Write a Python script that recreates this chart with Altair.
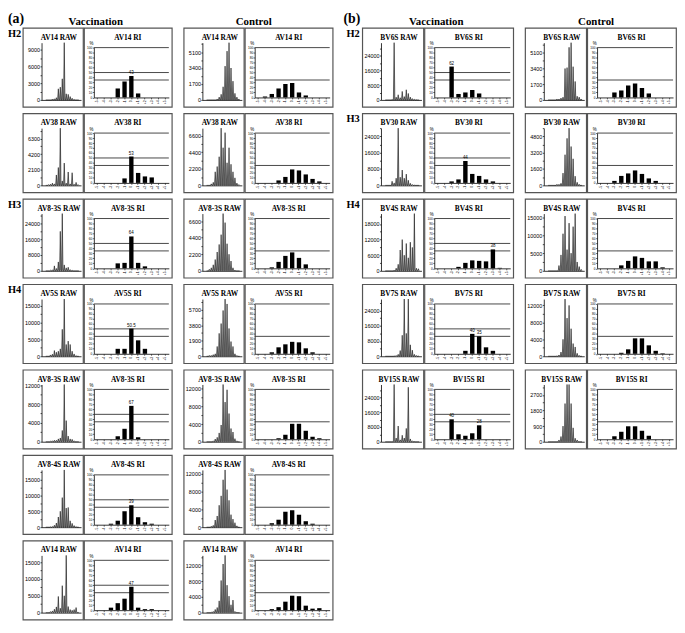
import altair as alt
import pandas as pd

# ---------------- data ----------------
CATS = ["-5", "-4", "-3", "-2", "-1", "0", "+1", "+2", "+3", "+4", "+5"]
VAC_RULES = [100, 50, 35]
CON_RULES = [100, 35]

A_GROUP = ["H2", "", "H3", "H4", "", "", ""]
A_NAMES = ["AV14", "AV38", "AV8-3S", "AV5S", "AV8-3S", "AV8-4S", "AV14"]
A_VAC_STEP = [3000, 2100, 8000, 5000, 4000, 5000, 5000]
A_CON_STEP = [1700, 2200, 2200, 1900, 4000, 4000, 4000]
A_VAC_RAW = [
    [0, 0, 0, 150, 200, 400, 2000, 2300, 3800, 10300, 1100, 1000, 600, 300, 100, 0, 0],
    [0, 100, 150, 300, 200, 1400, 2400, 7700, 600, 3000, 300, 1800, 200, 1700, 150, 400, 100],
    [0, 0, 300, 500, 2500, 1200, 4500, 20000, 29000, 3000, 1500, 1800, 600, 300, 0, 0, 0],
    [0, 0, 400, 600, 1700, 1200, 1500, 2200, 8000, 17000, 3500, 4500, 3500, 1500, 700, 200, 0],
    [0, 0, 100, 200, 300, 300, 600, 800, 2400, 12200, 4500, 1200, 600, 500, 200, 0, 0],
    [0, 0, 100, 200, 600, 1300, 3200, 5000, 9300, 18000, 6000, 6200, 2000, 1200, 500, 200, 0],
    [0, 0, 300, 500, 1000, 1700, 4800, 1300, 8000, 5000, 17000, 1800, 900, 700, 900, 1500, 100],
]
A_CON_RAW = [
    [0, 0, 0, 0, 0, 100, 300, 600, 1400, 3600, 5200, 6100, 3400, 2000, 700, 300, 100],
    [0, 0, 200, 400, 1800, 2500, 3800, 7600, 5000, 7000, 3000, 5000, 2800, 1800, 1000, 300, 100],
    [0, 200, 400, 800, 1500, 2500, 3500, 4800, 7600, 6400, 3600, 2200, 1300, 400, 100, 0, 0],
    [0, 100, 100, 200, 300, 1200, 2800, 4000, 5600, 7000, 6400, 3400, 1800, 1200, 300, 100, 0],
    [0, 0, 0, 200, 600, 1000, 2000, 3800, 13000, 9000, 11800, 6400, 3000, 2200, 700, 200, 0],
    [0, 0, 200, 400, 1600, 2500, 4900, 7000, 10600, 12800, 8400, 6000, 2800, 1800, 1000, 300, 0],
    [0, 0, 100, 300, 800, 1300, 3000, 8200, 12400, 14600, 7000, 4200, 2000, 3200, 300, 100, 0],
]
A_VAC_RI = [
    [0, 0, 0, 18, 32, 43, 8, 0, 0, 0, 0],
    [0, 0, 0, 0, 9, 53, 20, 13, 11, 0, 0],
    [0, 0, 0, 10, 11, 64, 11, 4, 0, 0, 0],
    [0, 0, 0, 10, 10, 50.5, 27, 10, 0, 0, 0],
    [0, 0, 0, 6, 21, 67, 4, 0, 0, 0, 0],
    [0, 0, 2, 8, 27, 39, 15, 5, 2, 0, 0],
    [0, 0, 5, 14, 23, 47, 5, 2, 2, 0, 0],
]
A_CON_RI = [
    [0, 2, 7, 18, 27, 29, 10, 4, 0, 0, 0],
    [0, 0, 0, 5, 12, 27, 25, 17, 8, 3, 0],
    [0, 0, 2, 13, 25, 32, 21, 8, 0, 0, 0],
    [0, 0, 3, 13, 19, 24, 23, 11, 3, 0, 0],
    [0, 0, 0, 2, 9, 31, 31, 17, 5, 2, 0],
    [0, 0, 3, 10, 26, 29, 20, 7, 2, 0, 0],
    [0, 0, 2, 6, 17, 29, 28, 9, 3, 4, 0],
]
A_VAC_MARK = [[5], [5], [5], [5], [5], [5], [5]]

B_GROUP = ["H2", "H3", "H4", "", ""]
B_NAMES = ["BV6S", "BV30", "BV4S", "BV7S", "BV15S"]
B_VAC_STEP = [8000, 8000, 6000, 8000, 8000]
B_CON_STEP = [1700, 1600, 5000, 4000, 900]
B_VAC_RAW = [
    [0, 0, 0, 300, 31000, 1500, 2800, 1200, 4600, 1800, 5500, 3500, 1500, 700, 300, 100, 0],
    [0, 0, 0, 2000, 1200, 3500, 28000, 4000, 7500, 3500, 5500, 2500, 1000, 400, 100, 0, 0],
    [0, 0, 0, 0, 300, 1000, 2500, 8000, 12000, 6000, 10500, 5000, 11000, 9000, 22000, 1000, 800],
    [0, 0, 0, 0, 200, 400, 1000, 3000, 11000, 30000, 12000, 30000, 6000, 3200, 1000, 400, 100],
    [0, 0, 0, 0, 31000, 2000, 8500, 1000, 3500, 2000, 7200, 29500, 1500, 500, 100, 0, 0],
]
B_CON_RAW = [
    [0, 0, 0, 0, 100, 100, 200, 300, 3400, 3500, 5700, 6200, 3600, 2000, 400, 300, 100],
    [0, 0, 0, 0, 100, 100, 200, 1200, 3000, 4600, 5600, 3800, 2600, 900, 300, 100, 0],
    [0, 0, 0, 0, 0, 1500, 4500, 10500, 15500, 6000, 13500, 5000, 12500, 16200, 2500, 1200, 400],
    [0, 0, 0, 0, 100, 300, 1000, 4000, 13500, 9000, 12000, 6500, 3000, 2200, 700, 200, 0],
    [0, 0, 0, 0, 0, 100, 300, 900, 2200, 3300, 3300, 2200, 800, 200, 100, 0, 0],
]
B_VAC_RI = [
    [0, 0, 62, 7, 10, 15, 8, 0, 0, 0, 0],
    [0, 0, 3, 7, 44, 18, 14, 7, 3, 0, 0],
    [0, 0, 0, 3, 11, 16, 15, 14, 38, 1, 0],
    [0, 0, 0, 0, 6, 40, 35, 13, 6, 0, 0],
    [0, 0, 40, 10, 7, 12, 28, 0, 0, 0, 0],
]
B_CON_RI = [
    [0, 0, 10, 14, 24, 28, 19, 8, 0, 0, 0],
    [0, 0, 4, 14, 19, 25, 18, 9, 4, 0, 0],
    [0, 0, 0, 6, 15, 24, 21, 14, 14, 2, 0],
    [0, 0, 0, 2, 9, 31, 31, 17, 6, 1, 0],
    [0, 0, 6, 15, 26, 26, 17, 7, 0, 0, 0],
]
B_VAC_MARK = [[2], [4], [8], [5, 6], [2, 6]]

# ---------------- style ----------------
SERIF = "Liberation Serif"
SANS = "Liberation Sans"
BOX = "#555555"
SW = 1.2
H = 80
ROW_GAP = 4.6
HEAD_GAP = -1.5
Y0_RAW, YTOP_RAW = 73, 15
Y0_RI, Y100_RI = 70.5, 20
TITLE_Y = 12
RAW_AX = 19


def box_view():
    return alt.ViewBackground(stroke=BOX, strokeWidth=SW, fill="white")


def raw_chart(name, peaks, step, w):
    xs, ys = [], []
    for i, h in enumerate(peaks):
        xs += [i - 0.36, i, i + 0.36]
        ys += [0, h, 0]
    df = pd.DataFrame({"x": xs, "y": ys})
    top = max(peaks)
    half = step // 2
    ticks = [k * half for k in range(top // half + 1)]
    xsc = alt.Scale(domain=[-2.5, 17.5], range=[RAW_AX, w - 2], nice=False, zero=False)
    ysc = alt.Scale(domain=[0, top], range=[Y0_RAW, YTOP_RAW], nice=False, zero=False)
    xax = alt.Axis(labels=False, ticks=False, title=None, grid=False,
                   domainColor="black", domainWidth=0.8, offset=Y0_RAW - H)
    yax = alt.Axis(values=ticks, title=None, grid=False, offset=-RAW_AX,
                   labelExpr=f"datum.value % {step} == 0 ? format(datum.value, 'd') : ''",
                   labelFont=SANS, labelFontSize=5.5, labelColor="black", labelPadding=0.5,
                   labelOverlap=False, tickSize=1.5, tickColor="black", tickWidth=0.7,
                   domainColor="black", domainWidth=0.8)
    base = alt.Chart(df)
    area = base.mark_area(color="#9a9a9a").encode(
        x=alt.X("x:Q", scale=xsc, axis=xax), y=alt.Y("y:Q", scale=ysc, axis=yax))
    line = base.mark_line(color="black", strokeWidth=0.55).encode(
        x=alt.X("x:Q", scale=xsc, axis=xax), y=alt.Y("y:Q", scale=ysc, axis=yax))
    title = alt.Chart(pd.DataFrame({"t": [name + " RAW"]})).mark_text(
        font=SERIF, fontWeight="bold", fontSize=7.5, color="black", baseline="alphabetic"
    ).encode(text="t:N", x=alt.value(w * 0.6), y=alt.value(TITLE_Y))
    return alt.layer(area, line, title).properties(width=w, height=H, view=box_view())


def ri_chart(name, vals, rules, marks, w):
    df = pd.DataFrame({"c": CATS, "v": vals})
    xsc = alt.Scale(domain=CATS, range=[10, w - 3], paddingInner=0.36, paddingOuter=0.2)
    ysc = alt.Scale(domain=[0, 100], range=[Y0_RI, Y100_RI], nice=False, zero=False)
    xax = alt.Axis(title=None, labelAngle=270, labelFont=SANS, labelFontSize=3.5,
                   labelColor="black", labelPadding=1, labelOverlap=False, tickSize=1.5,
                   tickColor="black", tickWidth=0.6, domainColor="black", domainWidth=0.8,
                   grid=False, offset=Y0_RI - H)
    yax = alt.Axis(values=list(range(0, 101, 10)), title="%", titleAngle=0, titleX=-3,
                   titleY=Y100_RI - 3, titleFont=SANS, titleFontSize=4.5,
                   titleFontWeight="normal", titleAlign="center", titleBaseline="alphabetic",
                   labelFont=SANS, labelFontSize=3.2, labelColor="black", labelPadding=0.5,
                   labelOverlap=False, tickSize=1.5, tickColor="black", tickWidth=0.6,
                   domainColor="black", domainWidth=0.8, grid=False, offset=-10)
    X = alt.X("c:N", sort=CATS, scale=xsc, axis=xax)
    rl = alt.Chart(pd.DataFrame({"r": rules})).mark_rule(color="#333333", strokeWidth=0.9).encode(
        y=alt.Y("r:Q", scale=ysc, axis=yax), x=alt.value(10), x2=alt.value(w - 3))
    bars = alt.Chart(df).mark_bar(color="black").encode(
        x=X, y=alt.Y("v:Q", scale=ysc, axis=yax))
    layers = [rl, bars]
    if marks:
        ldf = pd.DataFrame({"c": [CATS[i] for i in marks],
                            "v": [vals[i] for i in marks],
                            "t": [f"{vals[i]:g}" for i in marks]})
        labs = alt.Chart(ldf).mark_text(font=SANS, fontSize=4.5, dy=-3, color="black").encode(
            x=X, y=alt.Y("v:Q", scale=ysc, axis=yax), text="t:N")
        layers.append(labs)
    title = alt.Chart(pd.DataFrame({"t": [name + " RI"]})).mark_text(
        font=SERIF, fontWeight="bold", fontSize=7.5, color="black", baseline="alphabetic"
    ).encode(text="t:N", x=alt.value(w / 2), y=alt.value(TITLE_Y))
    layers.append(title)
    return alt.layer(*layers).properties(width=w, height=H, view=box_view())


def label_chart(text, w, tx):
    return alt.Chart(pd.DataFrame({"t": [text]})).mark_text(
        font=SERIF, fontWeight="bold", fontSize=10.5, align="left", baseline="alphabetic",
        color="black"
    ).encode(text="t:N", x=alt.value(tx), y=alt.value(9)).properties(
        width=w, height=H, view=alt.ViewBackground(strokeWidth=0))


def header_chart(letter, lw, rawW, riW, gap, lx):
    bw = rawW + riW
    items = [(letter, lx, 10, 14, "left"),
             ("Vaccination", lw + bw / 2, 12.5, 11, "center"),
             ("Control", lw + bw + gap + bw / 2, 12.5, 11, "center")]
    layers = []
    for t, x, y, s, a in items:
        layers.append(alt.Chart(pd.DataFrame({"t": [t]})).mark_text(
            font=SERIF, fontWeight="bold", fontSize=s, align=a, baseline="alphabetic",
            color="black").encode(text="t:N", x=alt.value(x), y=alt.value(y)))
    return alt.layer(*layers).properties(
        width=lw + 2 * bw + gap, height=10, view=alt.ViewBackground(strokeWidth=0))


def panel(letter, groups, names, vraw, vstep, craw, cstep, vri, cri, vmark,
          lw, lx, rawW, riW, gap, hx):
    rows = []
    for k in range(len(names)):
        cv = alt.hconcat(raw_chart(names[k], vraw[k], vstep[k], rawW),
                         ri_chart(names[k], vri[k], VAC_RULES, vmark[k], riW),
                         spacing=-SW)
        cc = alt.hconcat(raw_chart(names[k], craw[k], cstep[k], rawW),
                         ri_chart(names[k], cri[k], CON_RULES, [], riW),
                         spacing=-SW)
        left = alt.hconcat(label_chart(groups[k], lw, lx), cv, spacing=0)
        rows.append(alt.hconcat(left, cc, spacing=gap))
    body = alt.vconcat(*rows, spacing=ROW_GAP)
    return alt.vconcat(header_chart(letter, lw, rawW, riW, gap, hx), body, spacing=HEAD_GAP)


pa = panel("(a)", A_GROUP, A_NAMES, A_VAC_RAW, A_VAC_STEP, A_CON_RAW, A_CON_STEP,
           A_VAC_RI, A_CON_RI, A_VAC_MARK, 14, 0, 61, 89, 10, 0)
pb = panel("(b)", B_GROUP, B_NAMES, B_VAC_RAW, B_VAC_STEP, B_CON_RAW, B_CON_STEP,
           B_VAC_RI, B_CON_RI, B_VAC_MARK, 24, 9, 62, 90, 10, 6)

chart = alt.hconcat(pa, pb, spacing=4).properties(padding=0, background="white")

chart.save("out.html", embed_options={"renderer": "svg", "actions": False})
